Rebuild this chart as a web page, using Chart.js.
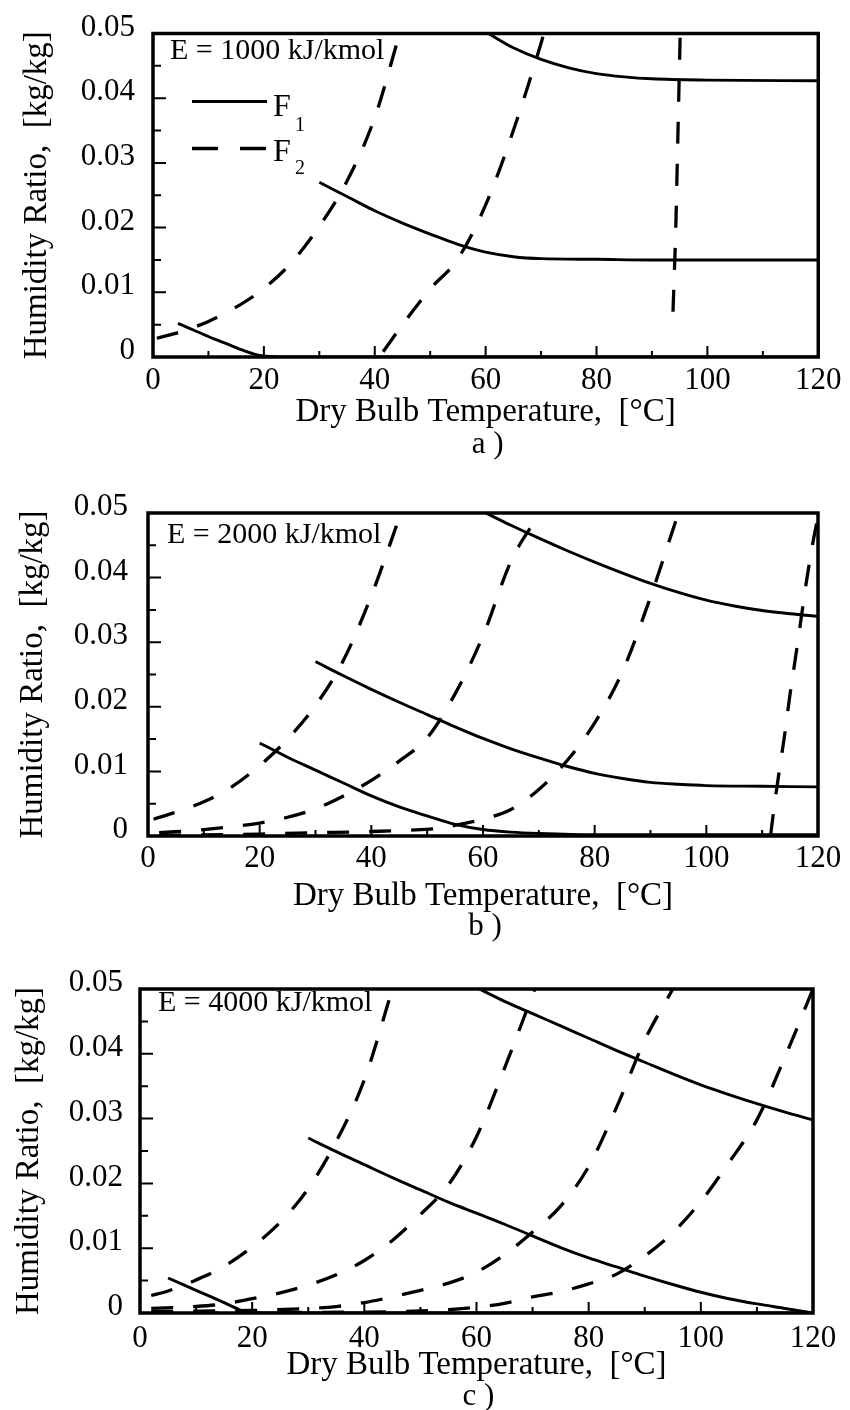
<!DOCTYPE html>
<html>
<head>
<meta charset="utf-8">
<title>Humidity ratio against dry bulb temperature</title>
<script src="https://cdn.jsdelivr.net/npm/chart.js@4.4.1/dist/chart.umd.min.js"></script>
<style>
  html, body { margin: 0; padding: 0; background: #fff; overflow: hidden; }
  body { width: 850px; height: 1410px; position: relative; }
  canvas { position: absolute; left: 0; }
</style>
</head>
<body>
<canvas id="panelA" width="850" height="480" style="top:0"></canvas>
<canvas id="panelB" width="850" height="480" style="top:470px"></canvas>
<canvas id="panelC" width="850" height="480" style="top:940px"></canvas>
<script>
// Axis ticks shared by all three panels
const TEMP_TICKS = [0, 20, 40, 60, 80, 100, 120];
const HUMIDITY_TICKS = [0, 0.01, 0.02, 0.03, 0.04, 0.05];

// a) E = 1000 kJ/kmol  — [temperature degC, humidity ratio kg/kg]
const aF1Low = [[4.5, 0.0052], [8, 0.0039], [11, 0.0028], [14, 0.0018], [17, 0.0008], [19, 0.0003], [21, 0.0001], [25, 0], [120, 0]];
const aF1Mid = [[30, 0.027], [35, 0.0248], [40, 0.0226], [45, 0.0207], [50, 0.019], [55, 0.0174], [60, 0.0162], [65, 0.0155], [70, 0.0152], [80, 0.0151], [90, 0.015], [120, 0.015]];
const aF1High = [[60.5, 0.05], [65, 0.0478], [70, 0.046], [75, 0.0447], [80, 0.0438], [85, 0.0433], [90, 0.043], [100, 0.0428], [120, 0.0427]];
const aF2Left = [[0.7, 0.0029], [5, 0.0039], [10, 0.0055], [15, 0.0077], [20, 0.0106], [25, 0.0146], [30, 0.0202], [35, 0.0272], [40, 0.037], [44.5, 0.05]];
const aF2Mid = [[41.5, 0.0008], [45, 0.005], [50, 0.0105], [55, 0.0152], [60, 0.0235], [65, 0.035], [70, 0.0485], [70.5, 0.05]];
const aF2Right = [[93.8, 0.007], [94.3, 0.02], [94.7, 0.035], [95.1, 0.05]];

// b) E = 2000 kJ/kmol
const bF1Low = [[20, 0.0144], [25, 0.0122], [30, 0.0102], [35, 0.0082], [40, 0.0062], [45, 0.0045], [50, 0.0031], [55, 0.0018], [60, 0.001], [65, 0.0006], [70, 0.0004], [80, 0.0002], [120, 0.0002]];
const bF1Mid = [[30, 0.027], [35, 0.0248], [40, 0.0227], [45, 0.0207], [50, 0.0188], [55, 0.0169], [60, 0.0151], [65, 0.0135], [70, 0.0121], [75, 0.0108], [80, 0.0097], [85, 0.0089], [90, 0.0083], [95, 0.008], [100, 0.0078], [110, 0.0077], [120, 0.0076]];
const bF1High = [[60.5, 0.05], [65, 0.0481], [70, 0.0461], [75, 0.0442], [80, 0.0424], [85, 0.0407], [90, 0.0391], [95, 0.0377], [100, 0.0365], [105, 0.0356], [110, 0.0349], [115, 0.0344], [120, 0.034]];
const bF2First = [[1, 0.0026], [5, 0.0037], [10, 0.0053], [15, 0.0076], [20, 0.0109], [25, 0.015], [30, 0.0202], [35, 0.0272], [40, 0.0372], [45.3, 0.05]];
const bF2Second = [[2, 0.0005], [10, 0.001], [20, 0.002], [25, 0.0029], [30, 0.0042], [35, 0.0062], [40, 0.0086], [45, 0.0116], [50, 0.0152], [55, 0.022], [60, 0.031], [65, 0.0425], [70.2, 0.05]];
const bF2Third = [[2, 0.0001], [20, 0.0003], [30, 0.0005], [40, 0.0007], [47, 0.0009], [52, 0.0012], [57, 0.002], [60, 0.0026], [65, 0.0041], [70, 0.0072], [75, 0.0116], [80, 0.0175], [85, 0.0255], [90, 0.037], [95, 0.05]];
const bF2Fourth = [[111.5, 0], [112, 0.0035], [113, 0.0097], [114, 0.0155], [115, 0.022], [116, 0.0278], [117, 0.0338], [118, 0.0398], [119, 0.045], [120, 0.0495]];

// c) E = 4000 kJ/kmol
const cF1Low = [[5, 0.0054], [10, 0.0035], [15, 0.0016], [18, 0.0004], [19.5, 0], [120, 0]];
const cF1Mid = [[30, 0.027], [35, 0.0249], [40, 0.0229], [45, 0.0209], [50, 0.019], [55, 0.0171], [60, 0.0154], [65, 0.0137], [70, 0.0119], [75, 0.0101], [80, 0.0085], [85, 0.0071], [90, 0.0057], [95, 0.0044], [100, 0.0032], [105, 0.0022], [110, 0.0014], [115, 0.0007], [120, 0]];
const cF1High = [[60.5, 0.05], [65, 0.0481], [70, 0.0462], [75, 0.0443], [80, 0.0424], [85, 0.0405], [90, 0.0387], [95, 0.0369], [100, 0.0352], [105, 0.0337], [110, 0.0323], [115, 0.031], [120, 0.0298]];
const cF2First = [[2, 0.0027], [5, 0.0034], [10, 0.0051], [15, 0.0072], [20, 0.0102], [25, 0.014], [30, 0.0192], [35, 0.0265], [40, 0.036], [45, 0.05]];
const cF2Second = [[2, 0.0007], [10, 0.001], [15, 0.0014], [20, 0.0022], [25, 0.0031], [30, 0.0043], [35, 0.0059], [40, 0.0081], [45, 0.0112], [50, 0.0152], [55, 0.0198], [60, 0.0272], [65, 0.0378], [70.4, 0.05]];
const cF2Third = [[2, 0.0002], [10, 0.0003], [20, 0.0004], [30, 0.0007], [35, 0.001], [40, 0.0016], [45, 0.0025], [50, 0.0035], [55, 0.0046], [60, 0.0063], [65, 0.009], [70, 0.0125], [75, 0.0165], [80, 0.0226], [85, 0.0318], [90, 0.0421], [95, 0.05]];
const cF2Fourth = [[10, 0], [30, 0.0001], [45, 0.0002], [55, 0.0005], [60, 0.0009], [65, 0.0015], [70, 0.0025], [75, 0.0033], [80, 0.0045], [85, 0.006], [90, 0.0088], [95, 0.0124], [100, 0.0172], [105, 0.0232], [110, 0.0298], [115, 0.0395], [120, 0.05]];

const SERIF = '"Liberation Serif", "Times New Roman", serif';
const TICK_FONT = { family: SERIF, size: 31, lineHeight: 1 };
const TITLE_FONT = { family: SERIF, size: 33, lineHeight: 1 };
const F2_DASH = [22, 20];

// Box round the plot area plus inward major/minor tick marks on the left and bottom
const panelFrame = {
  id: 'panelFrame',
  afterDatasetsDraw(chart) {
    const { ctx, chartArea: { left, right, top, bottom }, scales: { x, y } } = chart;
    ctx.save();
    ctx.strokeStyle = '#000';
    ctx.lineWidth = 2;
    ctx.beginPath();
    HUMIDITY_TICKS.forEach((v, i) => {
      const py = y.getPixelForValue(v);
      ctx.moveTo(left, py);
      ctx.lineTo(left + 13, py);
      if (i > 0) {
        const pm = y.getPixelForValue((v + HUMIDITY_TICKS[i - 1]) / 2);
        ctx.moveTo(left, pm);
        ctx.lineTo(left + 8, pm);
      }
    });
    TEMP_TICKS.forEach((v, i) => {
      const px = x.getPixelForValue(v);
      ctx.moveTo(px, bottom);
      ctx.lineTo(px, bottom - 11);
      if (i > 0) {
        const pm = x.getPixelForValue((v + TEMP_TICKS[i - 1]) / 2);
        ctx.moveTo(pm, bottom);
        ctx.lineTo(pm, bottom - 6);
      }
    });
    ctx.stroke();
    ctx.lineWidth = 3.5;
    ctx.strokeRect(left, top, right - left, bottom - top);
    ctx.restore();
  }
};

// Energy label, panel caption and the F1/F2 key
const panelText = {
  id: 'panelText',
  afterDraw(chart, args, opts) {
    const { ctx, chartArea: { left, right, top } } = chart;
    ctx.save();
    ctx.fillStyle = '#000';
    ctx.strokeStyle = '#000';
    ctx.textBaseline = 'alphabetic';
    ctx.font = '30px ' + SERIF;
    ctx.fillText(opts.energy, left + opts.energyDx, top + opts.energyDy);

    ctx.font = '31px ' + SERIF;
    ctx.textAlign = 'center';
    ctx.fillText(opts.caption, (left + right) / 2 + 2, opts.captionY);
    ctx.textAlign = 'left';

    if (opts.key) {
      const rows = [
        { name: '1', dash: [], width: 3, y: top + 68, base: top + 82, sub: top + 97 },
        { name: '2', dash: [26, 22], width: 3.3, y: top + 115, base: top + 127, sub: top + 140 }
      ];
      rows.forEach(r => {
        ctx.beginPath();
        ctx.setLineDash(r.dash);
        ctx.lineWidth = r.width;
        ctx.moveTo(left + 39, r.y);
        ctx.lineTo(left + 114, r.y);
        ctx.stroke();
        ctx.font = '32px ' + SERIF;
        ctx.fillText('F', left + 120, r.base);
        ctx.font = '20px ' + SERIF;
        ctx.fillText(r.name, left + 142, r.sub);
      });
    }
    ctx.restore();
  }
};

function curve(points, dashed) {
  return {
    label: dashed ? 'F2' : 'F1',
    data: points,
    borderColor: '#000',
    borderWidth: dashed ? 3.3 : 2.9,
    borderDash: dashed ? F2_DASH : [],
    borderCapStyle: 'butt',
    pointRadius: 0,
    fill: false,
    cubicInterpolationMode: 'monotone'
  };
}

function makePanel(id, p) {
  return new Chart(document.getElementById(id), {
    type: 'line',
    data: {
      datasets: [...p.f1.map(c => curve(c, false)), ...p.f2.map(c => curve(c, true))]
    },
    options: {
      responsive: false,
      animation: false,
      events: [],
      layout: { padding: { left: 0, top: p.area.top, right: 850 - p.area.right, bottom: 10 } },
      scales: {
        x: {
          type: 'linear',
          min: 0,
          max: 120,
          afterBuildTicks: s => { s.ticks = TEMP_TICKS.map(value => ({ value })); },
          afterFit: s => { s.height = 470 - p.area.bottom; },
          grid: { display: false, drawTicks: false },
          border: { display: false },
          ticks: { font: TICK_FONT, color: '#000', padding: p.xTickPad, autoSkip: false, maxRotation: 0 },
          title: {
            display: true,
            text: 'Dry Bulb Temperature,  [°C]',
            font: TITLE_FONT,
            color: '#000',
            padding: { top: 0, bottom: p.xTitlePad }
          }
        },
        y: {
          min: 0,
          max: 0.05,
          afterBuildTicks: s => { s.ticks = HUMIDITY_TICKS.map(value => ({ value })); },
          afterFit: s => { s.width = p.area.left; },
          grid: { display: false, drawTicks: false },
          border: { display: false },
          ticks: {
            font: TICK_FONT,
            color: '#000',
            padding: p.yTickPad,
            labelOffset: -6,
            callback: v => (v === 0 ? '0' : v.toFixed(2))
          },
          title: {
            display: true,
            text: 'Humidity Ratio,  [kg/kg]',
            font: TITLE_FONT,
            color: '#000',
            padding: { top: p.yTitlePad, bottom: 0 }
          }
        }
      },
      plugins: {
        legend: { display: false },
        tooltip: { enabled: false },
        panelText: {
          energy: p.energy,
          energyDx: p.energyDx,
          energyDy: p.energyDy,
          caption: p.caption,
          captionY: p.captionY,
          key: p.key
        }
      }
    },
    plugins: [panelFrame, panelText]
  });
}

makePanel('panelA', {
  f1: [aF1Low, aF1Mid, aF1High],
  f2: [aF2Left, aF2Mid, aF2Right],
  area: { left: 153, right: 824, top: 33, bottom: 357 },
  xTickPad: 8.5, xTitlePad: 41.5, yTickPad: 18, yTitlePad: 20.5,
  energy: 'E = 1000 kJ/kmol', energyDx: 17, energyDy: 25,
  caption: 'a )', captionY: 453, key: true
});

makePanel('panelB', {
  f1: [bF1Low, bF1Mid, bF1High],
  f2: [bF2First, bF2Second, bF2Third, bF2Fourth],
  area: { left: 148, right: 818, top: 43, bottom: 366 },
  xTickPad: 7, xTitlePad: 27.5, yTickPad: 20, yTitlePad: 16.5,
  energy: 'E = 2000 kJ/kmol', energyDx: 19, energyDy: 30,
  caption: 'b )', captionY: 465, key: false
});

makePanel('panelC', {
  f1: [cF1Low, cF1Mid, cF1High],
  f2: [cF2First, cF2Second, cF2Third, cF2Fourth],
  area: { left: 140, right: 813, top: 49, bottom: 373 },
  xTickPad: 10.5, xTitlePad: 28.5, yTickPad: 17, yTitlePad: 12.5,
  energy: 'E = 4000 kJ/kmol', energyDx: 18, energyDy: 22,
  caption: 'c )', captionY: 465, key: false
});
</script>
</body>
</html>
